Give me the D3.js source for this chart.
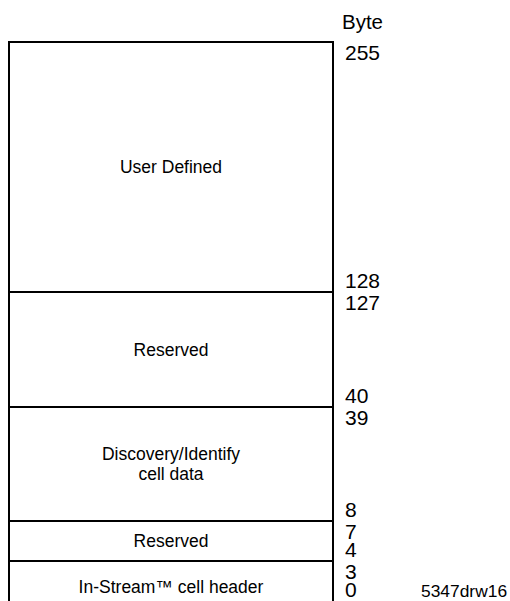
<!DOCTYPE html>
<html>
<head>
<meta charset="utf-8">
<script src="https://cdn.jsdelivr.net/npm/d3@7"></script>
<style>
  html, body { margin: 0; padding: 0; background: #fff; }
  svg { display: block; }
  text { font-family: "Liberation Sans", Arial, sans-serif; fill: #000; }
</style>
</head>
<body>
<div id="chart"></div>
<script>
// ---- data ----
const segmentLabels = [
  ["In-Stream\u2122 cell header"],
  ["Reserved"],
  ["Discovery/Identify", "cell data"],
  ["Reserved"],
  ["User Defined"]
];
const segmentStart = [0, 4, 8, 40, 128];
const segmentEnd   = [3, 7, 39, 127, 255];
const axisTitle = "Byte";
const figureId = "5347drw16";

// ---- layout ----
const W = 510, H = 601;
const boxLeft = 9, boxRight = 333;
const labelX = 345;

// schematic (non-proportional) byte -> y mapping
const boundaries = segmentStart.concat([segmentEnd[segmentEnd.length - 1] + 1]);
const y = d3.scaleLinear()
  .domain(boundaries)
  .range([613, 561, 521, 407, 292, 42]);

const svg = d3.select("#chart").append("svg")
  .attr("width", W).attr("height", H);

const segs = segmentStart.map((s, i) => ({
  start: s, end: segmentEnd[i], label: segmentLabels[i]
}));

// boxes
svg.append("g").selectAll("rect")
  .data(segs)
  .join("rect")
  .attr("x", boxLeft)
  .attr("y", d => y(d.end + 1))
  .attr("width", boxRight - boxLeft)
  .attr("height", d => y(d.start) - y(d.end + 1))
  .attr("fill", "none")
  .attr("stroke", "#000")
  .attr("stroke-width", 2);

// inner labels
const inner = svg.append("g").selectAll("text")
  .data(segs)
  .join("text")
  .attr("text-anchor", "middle")
  .attr("font-size", 17.5)
  .attr("transform", d => {
    const cy = (y(d.start) + y(d.end + 1)) / 2;
    return `translate(${(boxLeft + boxRight) / 2},${cy})`;
  });
inner.each(function(d) {
  const n = d.label.length;
  const lh = 20;
  d3.select(this).selectAll("tspan")
    .data(d.label)
    .join("tspan")
    .attr("x", 0)
    .attr("y", (t, j) => (j - (n - 1) / 2) * lh)
    .attr("dy", "0.35em")
    .text(t => t);
});

// byte labels
const byteG = svg.append("g").attr("font-size", 21);
byteG.selectAll("text.top")
  .data(segs)
  .join("text")
  .attr("class", "top")
  .attr("x", labelX)
  .attr("y", d => y(d.end + 1) + 18)
  .text(d => d.end);
byteG.selectAll("text.bot")
  .data(segs)
  .join("text")
  .attr("class", "bot")
  .attr("x", labelX)
  .attr("y", d => Math.min(y(d.start) - 4, H - 4))
  .text(d => d.start);

svg.append("text")
  .attr("x", 342).attr("y", 29)
  .attr("font-size", 20.5)
  .text(axisTitle);

svg.append("text")
  .attr("x", 421).attr("y", 597)
  .attr("font-size", 17.4)
  .text(figureId);
</script>
</body>
</html>
